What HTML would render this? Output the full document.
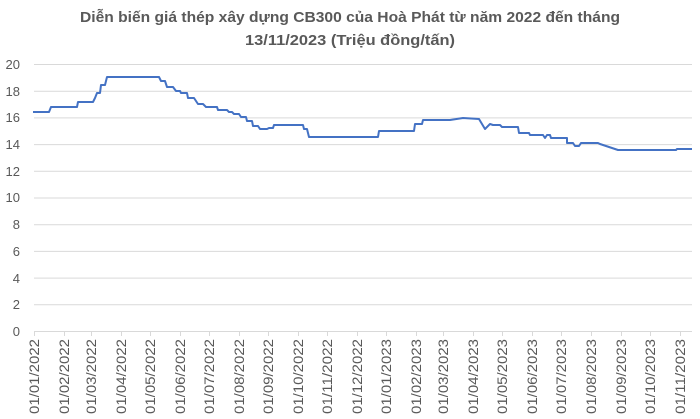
<!DOCTYPE html>
<html><head><meta charset="utf-8"><style>
html,body{margin:0;padding:0;background:#fff;}
svg{display:block;font-family:"Liberation Sans",sans-serif;}
</style></head><body>
<svg width="700" height="419" viewBox="0 0 700 419" xmlns="http://www.w3.org/2000/svg">
<rect width="700" height="419" fill="#fff"/>
<g fill="#595959" font-weight="bold" font-size="15" text-anchor="middle">
<text x="350" y="22" textLength="540" lengthAdjust="spacingAndGlyphs">Diễn biến giá thép xây dựng CB300 của Hoà Phát từ năm 2022 đến tháng</text>
<text x="350" y="45" textLength="210" lengthAdjust="spacingAndGlyphs">13/11/2023 (Triệu đồng/tấn)</text>
</g>
<g stroke="#d9d9d9" stroke-width="1">
<line x1="34" x2="692" y1="64.5" y2="64.5"/>
<line x1="34" x2="692" y1="91.2" y2="91.2"/>
<line x1="34" x2="692" y1="117.9" y2="117.9"/>
<line x1="34" x2="692" y1="144.6" y2="144.6"/>
<line x1="34" x2="692" y1="171.3" y2="171.3"/>
<line x1="34" x2="692" y1="198" y2="198"/>
<line x1="34" x2="692" y1="224.7" y2="224.7"/>
<line x1="34" x2="692" y1="251.4" y2="251.4"/>
<line x1="34" x2="692" y1="278.1" y2="278.1"/>
<line x1="34" x2="692" y1="304.8" y2="304.8"/>
<line x1="34" x2="692" y1="331.5" y2="331.5"/>
</g>
<g stroke="#d9d9d9" stroke-width="1">
<line x1="34.5" x2="34.5" y1="331" y2="336"/><line x1="64.5" x2="64.5" y1="331" y2="336"/><line x1="91.5" x2="91.5" y1="331" y2="336"/><line x1="121.5" x2="121.5" y1="331" y2="336"/><line x1="150.5" x2="150.5" y1="331" y2="336"/><line x1="180.5" x2="180.5" y1="331" y2="336"/><line x1="209.5" x2="209.5" y1="331" y2="336"/><line x1="239.5" x2="239.5" y1="331" y2="336"/><line x1="268.5" x2="268.5" y1="331" y2="336"/><line x1="298.5" x2="298.5" y1="331" y2="336"/><line x1="327.5" x2="327.5" y1="331" y2="336"/><line x1="357.5" x2="357.5" y1="331" y2="336"/><line x1="386.5" x2="386.5" y1="331" y2="336"/><line x1="416.5" x2="416.5" y1="331" y2="336"/><line x1="443.5" x2="443.5" y1="331" y2="336"/><line x1="473.5" x2="473.5" y1="331" y2="336"/><line x1="502.5" x2="502.5" y1="331" y2="336"/><line x1="532.5" x2="532.5" y1="331" y2="336"/><line x1="561.5" x2="561.5" y1="331" y2="336"/><line x1="591.5" x2="591.5" y1="331" y2="336"/><line x1="621.5" x2="621.5" y1="331" y2="336"/><line x1="650.5" x2="650.5" y1="331" y2="336"/><line x1="680.5" x2="680.5" y1="331" y2="336"/>
</g>
<g fill="#595959" font-size="13" text-anchor="end">
<text x="20" y="69">20</text><text x="20" y="96">18</text><text x="20" y="122">16</text><text x="20" y="149">14</text><text x="20" y="176">12</text><text x="20" y="202">10</text><text x="20" y="229">8</text><text x="20" y="256">6</text><text x="20" y="283">4</text><text x="20" y="309">2</text><text x="20" y="336">0</text>
</g>
<g fill="#595959" font-size="14" text-anchor="end">
<text transform="translate(39,339) rotate(-90)" textLength="75" lengthAdjust="spacingAndGlyphs">01/01/2022</text>
<text transform="translate(69,339) rotate(-90)" textLength="75" lengthAdjust="spacingAndGlyphs">01/02/2022</text>
<text transform="translate(96,339) rotate(-90)" textLength="75" lengthAdjust="spacingAndGlyphs">01/03/2022</text>
<text transform="translate(126,339) rotate(-90)" textLength="75" lengthAdjust="spacingAndGlyphs">01/04/2022</text>
<text transform="translate(155,339) rotate(-90)" textLength="75" lengthAdjust="spacingAndGlyphs">01/05/2022</text>
<text transform="translate(185,339) rotate(-90)" textLength="75" lengthAdjust="spacingAndGlyphs">01/06/2022</text>
<text transform="translate(214,339) rotate(-90)" textLength="75" lengthAdjust="spacingAndGlyphs">01/07/2022</text>
<text transform="translate(244,339) rotate(-90)" textLength="75" lengthAdjust="spacingAndGlyphs">01/08/2022</text>
<text transform="translate(273,339) rotate(-90)" textLength="75" lengthAdjust="spacingAndGlyphs">01/09/2022</text>
<text transform="translate(303,339) rotate(-90)" textLength="75" lengthAdjust="spacingAndGlyphs">01/10/2022</text>
<text transform="translate(332,339) rotate(-90)" textLength="75" lengthAdjust="spacingAndGlyphs">01/11/2022</text>
<text transform="translate(362,339) rotate(-90)" textLength="75" lengthAdjust="spacingAndGlyphs">01/12/2022</text>
<text transform="translate(391,339) rotate(-90)" textLength="75" lengthAdjust="spacingAndGlyphs">01/01/2023</text>
<text transform="translate(421,339) rotate(-90)" textLength="75" lengthAdjust="spacingAndGlyphs">01/02/2023</text>
<text transform="translate(448,339) rotate(-90)" textLength="75" lengthAdjust="spacingAndGlyphs">01/03/2023</text>
<text transform="translate(478,339) rotate(-90)" textLength="75" lengthAdjust="spacingAndGlyphs">01/04/2023</text>
<text transform="translate(507,339) rotate(-90)" textLength="75" lengthAdjust="spacingAndGlyphs">01/05/2023</text>
<text transform="translate(537,339) rotate(-90)" textLength="75" lengthAdjust="spacingAndGlyphs">01/06/2023</text>
<text transform="translate(566,339) rotate(-90)" textLength="75" lengthAdjust="spacingAndGlyphs">01/07/2023</text>
<text transform="translate(596,339) rotate(-90)" textLength="75" lengthAdjust="spacingAndGlyphs">01/08/2023</text>
<text transform="translate(626,339) rotate(-90)" textLength="75" lengthAdjust="spacingAndGlyphs">01/09/2023</text>
<text transform="translate(655,339) rotate(-90)" textLength="75" lengthAdjust="spacingAndGlyphs">01/10/2023</text>
<text transform="translate(685,339) rotate(-90)" textLength="75" lengthAdjust="spacingAndGlyphs">01/11/2023</text>
</g>
<polyline fill="none" stroke="#4472c4" stroke-width="2" stroke-linejoin="round" points="33,112 49,112 51,107 77,107 78,102 93,102 95,98 97,93 100,93 101,85 105,85 107,77 159,77 161,81 165,81 167,87 173,87 176,91 180,91 181,93 187,93 188,98 194,98 198,104 203,104 206,107 217,107 218,110 227,110 229,112 232,112 234,114 239,114 241,117 246,117 247,121 252,121 253,126 258,126 260,129 267,129 269,128 273,128 274,125 303,125 304,129 307,129 309,137 378,137 379,131 414,131 415,124 422,124 423,120 450,120 463,118 479,119 485,129 490,124 493,125 500,125 502,127 518,127 519,133 529,133 530,135 543,135 545,138 547,135 550,135 551,138 567,138 567,143 573,143 575,146 579,146 581,143 598,143 600,144 618,150 676,150 677,149 692,149"/>
</svg>
</body></html>
